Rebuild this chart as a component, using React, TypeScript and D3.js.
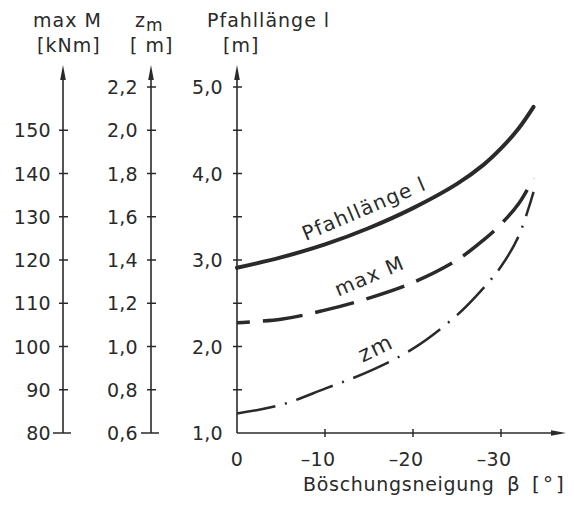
import React from 'react';
import * as d3 from 'd3';

// Böschungsneigung beta [°]
const beta = [0, -5, -10, -15, -20, -25, -28, -30, -32, -33.7];
// Pfahllänge l [m]
const pfahl = [2.91, 3.03, 3.18, 3.37, 3.6, 3.88, 4.1, 4.29, 4.52, 4.77];
// max M [kNm]
const maxM = [105.5, 106.3, 108.4, 111.2, 114.8, 120.0, 124.6, 128.3, 133.0, 138.9];
// z_m [m]
const zm = [0.69, 0.73, 0.805, 0.885, 0.99, 1.145, 1.27, 1.37, 1.51, 1.715];

const xTicks = [0, -10, -20, -30];
const pTicks = [1, 1.5, 2, 2.5, 3, 3.5, 4, 4.5, 5];
const pLabels = [1, 2, 3, 4, 5];
const mTicks = [80, 90, 100, 110, 120, 130, 140, 150];
const zTicks = [0.6, 0.8, 1.0, 1.2, 1.4, 1.6, 1.8, 2.0, 2.2];

const W = 574, H = 506;
const ink = '#2a2a2a';
const font = '"DejaVu Sans", sans-serif';

const x = d3.scaleLinear().domain([0, -37]).range([237, 562.6]);
const yP = d3.scaleLinear().domain([1, 5]).range([433, 87]);
const yM = d3.scaleLinear().domain([80, 160]).range([433, 87]);
const yZ = d3.scaleLinear().domain([0.6, 2.2]).range([433, 87]);

const fmt = (v: number, d: number) => v.toFixed(d).replace('.', ',');

const Arrow = ({ cx, cy, dir }: { cx: number; cy: number; dir: 'up' | 'right' }) => {
  const p = dir === 'up'
    ? `M${cx},${cy} L${cx - 2.8},${cy + 15} L${cx + 2.8},${cy + 15} Z`
    : `M${cx},${cy} L${cx - 15},${cy - 2.8} L${cx - 15},${cy + 2.8} Z`;
  return <path d={p} fill={ink} />;
};

const SideAxis = ({ ax, ticks, scale, dec, labelX }: any) => {
  const top = 65;
  const bottom = scale(ticks[0]);
  return (
    <g>
      <line x1={ax} x2={ax} y1={top + 6} y2={bottom} stroke={ink} strokeWidth={1.6} />
      <Arrow cx={ax} cy={top} dir="up" />
      {ticks.map((t: number, i: number) => (
        <g key={i}>
          <line x1={i === 0 ? ax - 10 : ax - 4} x2={i === 0 ? ax + 8 : ax + 5} y1={scale(t)} y2={scale(t)} stroke={ink} strokeWidth={1.5} />
          <text x={labelX} y={scale(t)} dy="0.37em" textAnchor="end" fontSize={19} letterSpacing={0.3} fill={ink} fontFamily={font}>
            {fmt(t, dec)}
          </text>
        </g>
      ))}
    </g>
  );
};

export default function App() {
  const pts = (vals: number[], ys: any) => beta.map((b, i) => [x(b), ys(vals[i])] as [number, number]);
  const line = d3.line().curve(d3.curveCatmullRom.alpha(0.5));

  const pPath = line(pts(pfahl, yP)) as string;
  const mPath = line(pts(maxM, yM)) as string;
  const zPath = line(pts(zm, yZ)) as string;

  return (
    <svg width={W} height={H} style={{ position: 'absolute', left: 0, top: 0, background: '#fff' }}>
      {/* header labels */}
      <g fontFamily={font} fontSize={19} fill={ink} letterSpacing={1}>
        <text x={33} y={27}>max M</text>
        <text x={37} y={52}>[kNm]</text>
        <text x={135} y={27}>z<tspan fontSize={17} dy={4}>m</tspan></text>
        <text x={130} y={52}>[ m]</text>
        <text x={207} y={27}>Pfahllänge  l</text>
        <text x={223} y={52}>[m]</text>
      </g>

      <SideAxis ax={63} ticks={mTicks} scale={yM} dec={0} labelX={51} />
      <SideAxis ax={151} ticks={zTicks} scale={yZ} dec={1} labelX={138} />

      {/* main axes */}
      <line x1={x(0)} x2={x(0)} y1={71} y2={yP(1)} stroke={ink} strokeWidth={1.6} />
      <Arrow cx={x(0)} cy={65} dir="up" />
      <line x1={x(0)} x2={559} y1={yP(1)} y2={yP(1)} stroke={ink} strokeWidth={1.6} />
      <Arrow cx={566} cy={yP(1)} dir="right" />
      {pTicks.slice(1).map((t, i) => (
        <line key={i} x1={x(0) - 4} x2={x(0) + 5} y1={yP(t)} y2={yP(t)} stroke={ink} strokeWidth={1.5} />
      ))}
      {pLabels.map((t, i) => (
        <text key={i} x={223} y={yP(t)} dy="0.37em" textAnchor="end" fontSize={19} letterSpacing={0.3} fill={ink} fontFamily={font}>
          {fmt(t, 1)}
        </text>
      ))}
      {xTicks.slice(1).map((t, i) => (
        <line key={i} x1={x(t)} x2={x(t)} y1={yP(1) - 4} y2={yP(1) + 4} stroke={ink} strokeWidth={1.5} />
      ))}
      {xTicks.map((t, i) => (
        <text key={i} x={t === 0 ? x(t) : x(t) - 7} y={466} textAnchor="middle" fontSize={19} letterSpacing={0.3} fill={ink} fontFamily={font}>
          {t === 0 ? '0' : '\u2013' + Math.abs(t)}
        </text>
      ))}
      <text x={303} y={491} fontSize={19} letterSpacing={0.7} fill={ink} fontFamily={font}>Böschungsneigung</text>
      <text x={507} y={491} fontSize={20} letterSpacing={3} fill={ink} fontFamily={font}>β [°]</text>

      {/* curves */}
      <path d={pPath} fill="none" stroke={ink} strokeWidth={4} strokeLinecap="round" />
      <path d={mPath} fill="none" stroke={ink} strokeWidth={3.5} strokeDasharray="40 13" strokeDashoffset={27} />
      <path d={zPath} fill="none" stroke={ink} strokeWidth={2.5} strokeDasharray="39 10 2 10" />

      {/* curve labels */}
      <g fontFamily={font} fontSize={20} fill={ink} letterSpacing={1.3}>
        <text transform={`translate(${x(-7.8)},${yP(3.22)}) rotate(-23)`}>Pfahllänge  l</text>
        <text transform={`translate(${x(-11.5)},${yM(111.5)}) rotate(-23)`}>max M</text>
        <text transform={`translate(${x(-14.3)},${yZ(0.925)}) rotate(-26)`} fontSize={22}>zm</text>
      </g>
    </svg>
  );
}
